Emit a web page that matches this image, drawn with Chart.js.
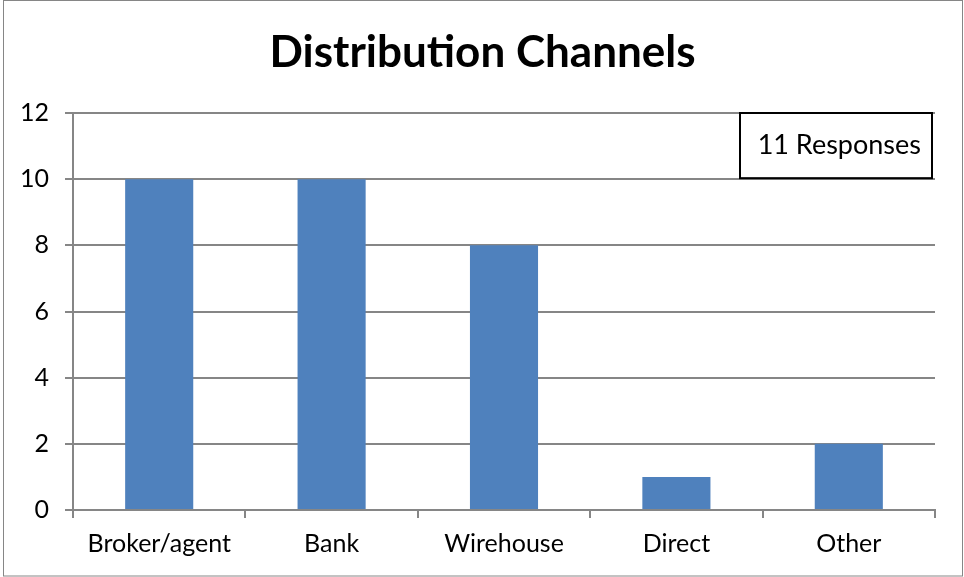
<!DOCTYPE html>
<html>
<head>
<meta charset="utf-8">
<script src="https://cdn.jsdelivr.net/npm/chart.js@4/dist/chart.umd.min.js"></script>
<style>
  html, body { margin: 0; padding: 0; background: #fff; }
  #wrap { width: 964px; height: 577px; position: relative; }
</style>
</head>
<body>
<div id="wrap"><canvas id="c" width="964" height="577"></canvas></div>
<script>
const categories = ['Broker/agent', 'Bank', 'Wirehouse', 'Direct', 'Other'];
const responses = [10, 10, 8, 1, 2];
const yTicks = [0, 2, 4, 6, 8, 10, 12];
const titleText = 'Distribution Channels';
const noteText = '11 Responses';

const FONT = 'Lato, "Open Sans", sans-serif';
const GRID = '#868686';

// Outer frame and the heading, centred on the whole framed figure
const framePlugin = {
  id: 'frame',
  beforeDraw(chart) {
    const ctx = chart.ctx;
    ctx.save();
    ctx.strokeStyle = '#868686';
    ctx.lineWidth = 1;
    ctx.strokeRect(3.5, 0.5, chart.width - 5, chart.height - 1.5);
    ctx.fillStyle = '#000';
    ctx.font = 'bold 44px ' + FONT;
    ctx.textAlign = 'center';
    ctx.textBaseline = 'middle';
    ctx.fillText(titleText, (3 + chart.width - 2) / 2, 53);
    ctx.restore();
  }
};

// Boxed note in the top-right corner of the plot
const notePlugin = {
  id: 'note',
  afterDatasetsDraw(chart) {
    const { ctx, chartArea, scales } = chart;
    const top = scales.y.getPixelForValue(12);
    const bottom = scales.y.getPixelForValue(10) - 1;
    const right = chartArea.right - 3;
    const left = right - 192;
    ctx.save();
    ctx.fillStyle = '#fff';
    ctx.fillRect(left, top, right - left, bottom - top);
    ctx.strokeStyle = '#000';
    ctx.lineWidth = 2;
    ctx.strokeRect(left, top, right - left, bottom - top);
    ctx.fillStyle = '#000';
    ctx.font = '27px ' + FONT;
    ctx.textAlign = 'right';
    ctx.textBaseline = 'middle';
    ctx.fillText(noteText, right - 11, (top + bottom) / 2);
    ctx.restore();
  }
};

new Chart(document.getElementById('c'), {
  type: 'bar',
  data: {
    labels: categories,
    datasets: [{
      data: responses,
      backgroundColor: '#4F81BD',
      borderWidth: 0,
      barPercentage: 1,
      categoryPercentage: 0.395
    }]
  },
  options: {
    responsive: false,
    animation: false,
    layout: { padding: { left: 0, right: 29, top: 113, bottom: 0 } },
    plugins: {
      legend: { display: false },
      tooltip: { enabled: false },
      title: { display: false }
    },
    scales: {
      x: {
        offset: true,
        grid: {
          offset: true,
          drawOnChartArea: false,
          drawTicks: true,
          tickLength: 8,
          color: GRID,
          lineWidth: 2
        },
        border: { display: true, color: GRID, width: 2 },
        ticks: {
          color: '#000',
          font: { family: FONT, size: 25 },
          padding: 11,
          maxRotation: 0
        },
        afterFit(scale) { scale.height = 67; }
      },
      y: {
        min: 0,
        max: 12,
        afterBuildTicks(scale) { scale.ticks = yTicks.map(v => ({ value: v })); },
        grid: {
          color: GRID,
          lineWidth: 2,
          drawTicks: true,
          tickLength: 8
        },
        border: { display: true, color: GRID, width: 2 },
        ticks: {
          color: '#000',
          font: { family: FONT, size: 25 },
          padding: 16
        },
        afterFit(scale) { scale.width = 73; }
      }
    }
  },
  plugins: [framePlugin, notePlugin]
});
</script>
</body>
</html>
